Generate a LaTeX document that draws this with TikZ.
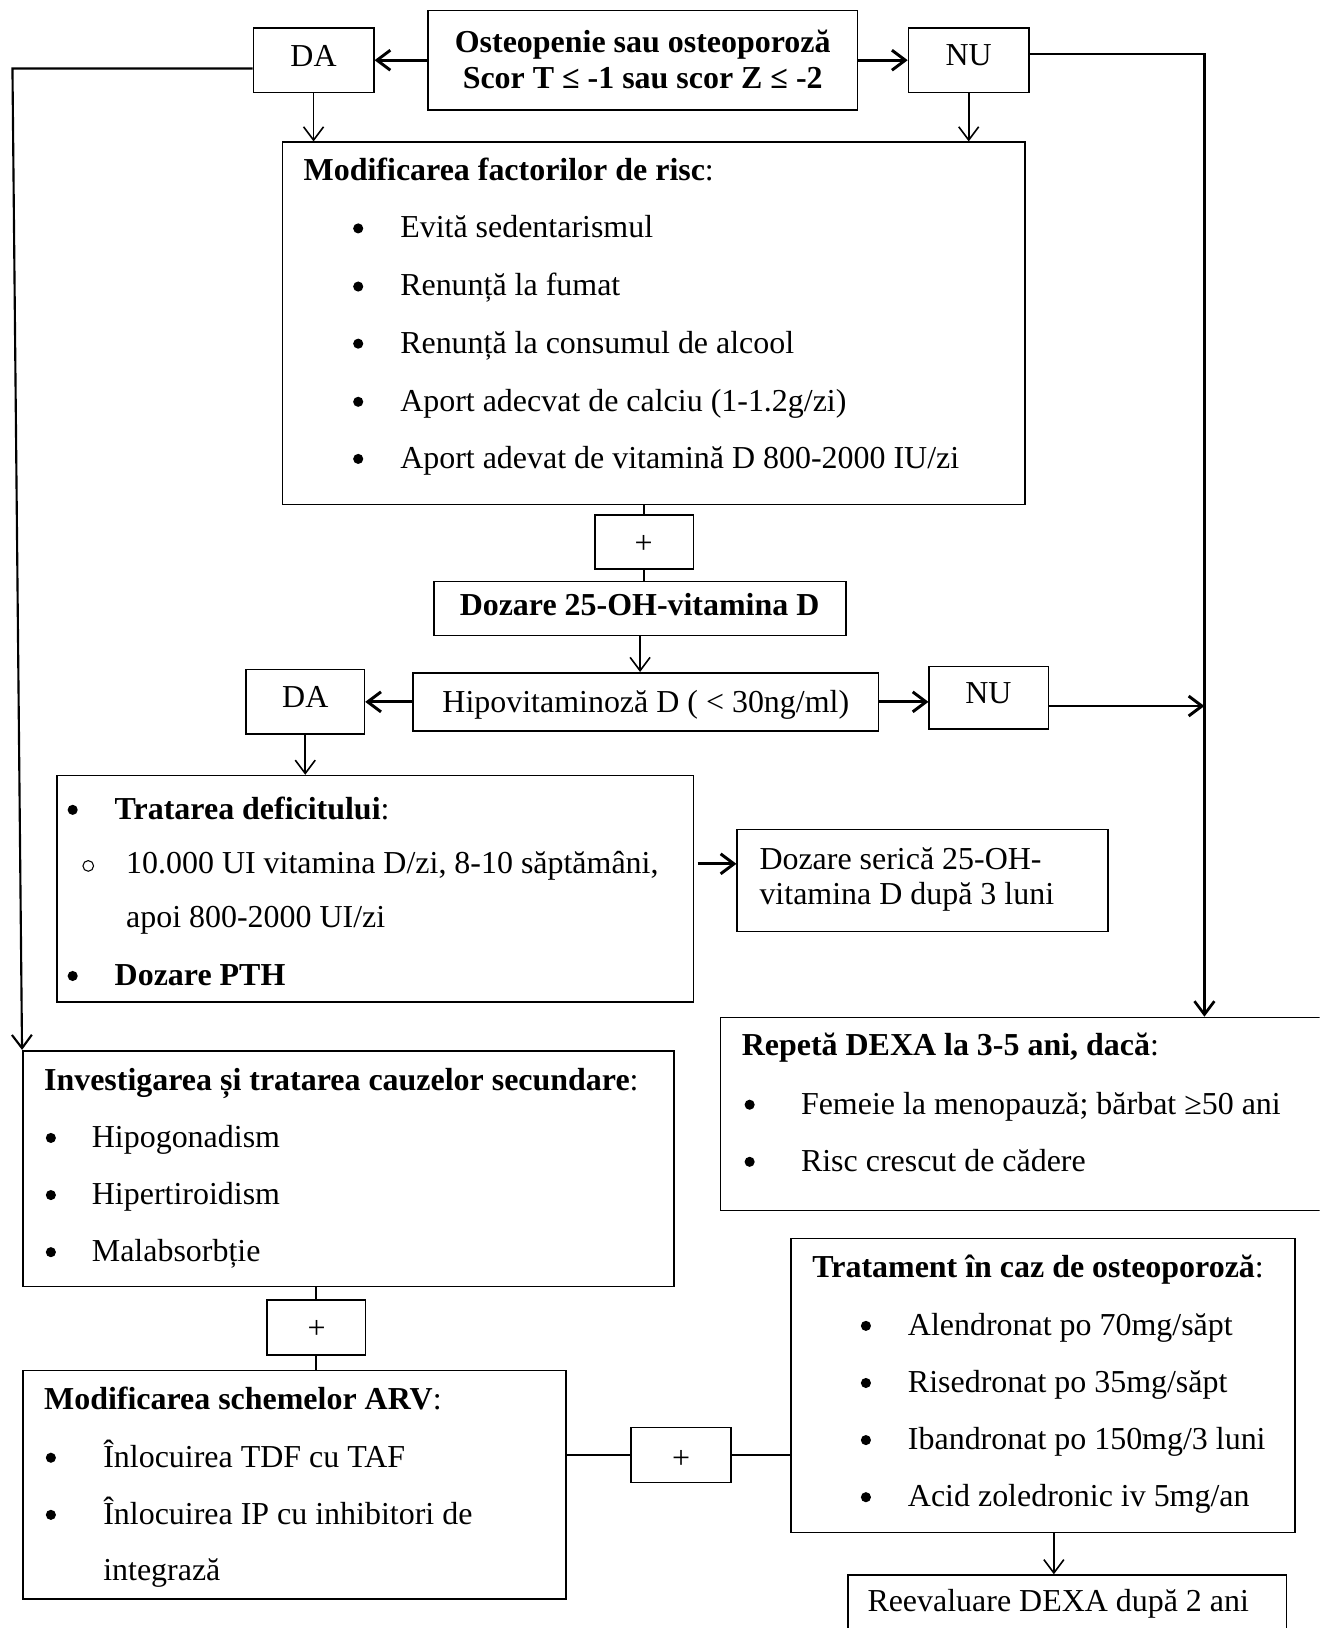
\documentclass[tikz,border=0pt]{standalone}
\usepackage{fontspec}
\setmainfont{Liberation Serif}
\usetikzlibrary{arrows.meta,fit}
\tikzset{every node/.style={font=\fontsize{12pt}{14pt}\selectfont}}
\tikzset{
  box/.style={draw, line width=0.6pt, inner sep=0pt},
  txt/.style={anchor=base west, inner sep=0pt},
  mid/.style={anchor=base, inner sep=0pt},
  dot/.style={circle, fill, inner sep=0pt, minimum size=3.8pt},
  odot/.style={circle, draw, line width=0.4pt, inner sep=0pt, minimum size=4pt},
  arr/.style={-{Straight Barb[length=5pt,width=7.5pt]}, line width=0.6pt},
  tarr/.style={-{Straight Barb[length=5pt,width=7.5pt]}, line width=1.1pt},
  link/.style={line width=0.6pt}
}

\begin{document}
\begin{tikzpicture}[x=0.39pt, y=-0.39pt]
\useasboundingbox (0,0) rectangle (1271,1568);
\clip (0,0) rectangle (1271,1568);

 % 框
 \node[box, fit={(412,10) (826,106)}] (osteo) {};
 \node[box, fit={(244,27) (360,89)}] (da1) {};
 \node[box, fit={(875,27) (991,89)}] (nu1) {};
 \node[box, fit={(272,137) (987,486)}] (mod) {};
 \node[box, fit={(573,496) (668,548)}] (plus1) {};
 \node[box, fit={(418,560) (815,612)}] (doz) {};
 \node[box, fit={(398,648) (846,704)}] (hipo) {};
 \node[box, fit={(237,645) (351,707)}] (da2) {};
 \node[box, fit={(895,642) (1010,702)}] (nu2) {};
 \node[box, fit={(55,747) (668,965)}] (trat) {};
 \node[box, fit={(710,799) (1067,897)}] (ser) {};
 \node[box, fit={(694,980) (1290,1166)}] (rep) {};
 \node[box, fit={(22,1012) (649,1239)}] (inv) {};
 \node[box, fit={(257,1252) (352,1305)}] (plus2) {};
 \node[box, fit={(22,1320) (545,1540)}] (arv) {};
 \node[box, fit={(608,1375) (704,1428)}] (plus3) {};
 \node[box, fit={(762,1193) (1247,1476)}] (tra) {};
 \node[box, fit={(817,1517) (1239,1590)}] (reev) {};

 % 文字
 \node[mid] (osteoA) at (619,51) {\bfseries Osteopenie sau osteoporoză};
 \node[mid] (osteoB) at (619,85) {\bfseries Scor T ≤ -1 sau scor Z ≤ -2};
 \node[mid] (da1T) at (302,64) {DA};
 \node[mid] (nu1T) at (933,63) {NU};
 \node[mid] (plus1T) at (620,533) {+};
 \node[mid] (dozT) at (616,593) {\bfseries Dozare 25-OH-vitamina D};
 \node[mid] (hipoT) at (622,686) {Hipovitaminoză D ( < 30ng/ml)};
 \node[mid] (da2T) at (294,681) {DA};
 \node[mid] (nu2T) at (952,678) {NU};
 \node[mid] (plus2T) at (305,1289) {+};
 \node[mid] (plus3T) at (656,1414) {+};

 \node[txt] (modT) at (292,174) {{\bfseries Modificarea factorilor de risc}:};
 \foreach \y/\t [count=\i] in {229/{Evită sedentarismul}, 285/{Renunță la fumat},
     340/{Renunță la consumul de alcool}, 396/{Aport adecvat de calciu (1-1.2g/zi)},
     451/{Aport adevat de vitamină D 800-2000 IU/zi}} {
   \node[dot] (modB\i) at (345,\y-9) {};
   \node[txt] (mod\i) at (385,\y) {\t};
 }

 \node[dot] (tratB1) at (70,780) {};
 \node[txt] (tratT) at (110,789) {{\bfseries Tratarea deficitului}:};
 \node[odot] (tratO) at (85,834) {};
 \node[txt] (trat1) at (121,841) {10.000 UI vitamina D/zi, 8-10 săptămâni,};
 \node[txt] (trat2) at (121,893) {apoi 800-2000 UI/zi};
 \node[dot] (tratB2) at (70,940) {};
 \node[txt] (trat3) at (110,949) {\bfseries Dozare PTH};

 \node[txt] (ser1) at (731,837) {Dozare serică 25-OH-};
 \node[txt] (ser2) at (731,871) {vitamina D după 3 luni};

 \node[txt] (repT) at (714,1017) {{\bfseries Repetă DEXA la 3-5 ani, dacă}:};
 \foreach \y/\t [count=\i] in {1073/{Femeie la menopauză; bărbat ≥50 ani}, 1128/{Risc crescut de cădere}} {
   \node[dot] (repB\i) at (722,\y-9) {};
   \node[txt] (rep\i) at (771,\y) {\t};
 }

 \node[txt] (invT) at (42,1050) {{\bfseries Investigarea și tratarea cauzelor secundare}:};
 \foreach \y/\t [count=\i] in {1105/Hipogonadism, 1160/Hipertiroidism, 1215/Malabsorbție} {
   \node[dot] (invB\i) at (49,\y-9) {};
   \node[txt] (inv\i) at (88,\y) {\t};
 }

 \node[txt] (arvT) at (42,1358) {{\bfseries Modificarea schemelor ARV}:};
 \node[dot] (arvB1) at (49,1404) {};
 \node[txt] (arv1) at (99,1413) {Înlocuirea TDF cu TAF};
 \node[dot] (arvB2) at (49,1459) {};
 \node[txt] (arv2) at (99,1468) {Înlocuirea IP cu inhibitori de};
 \node[txt] (arv3) at (99,1522) {integrază};

 \node[txt] (traT) at (782,1230) {{\bfseries Tratament în caz de osteoporoză}:};
 \foreach \y/\t [count=\i] in {1286/{Alendronat po 70mg/săpt}, 1341/{Risedronat po 35mg/săpt},
     1396/{Ibandronat po 150mg/3 luni}, 1451/{Acid zoledronic iv 5mg/an}} {
   \node[dot] (traB\i) at (834,\y-9) {};
   \node[txt] (tra\i) at (874,\y) {\t};
 }

 \node[txt] (reevT) at (835,1552) {Reevaluare DEXA după 2 ani};

 % 连线
 \coordinate (L1) at (12,66);
 \coordinate (R1) at (1160,52);
 \coordinate (R2) at (1160,680);
 \coordinate (T1) at (672,832);
 \coordinate (T2) at (1015,1476);

 \draw[tarr] (osteo) -- (da1);
 \draw[tarr] (osteo) -- (nu1);
 \draw[arr, line width=0.8pt] (da1.west |- L1) -- (L1) -- (inv.north west);
 \draw[arr, line width=1pt] (nu1.east |- R1) -- (R1) -- (R1 |- rep.north);
 \draw[arr] (da1.south) -- (da1.south |- mod.north);
 \draw[arr] (nu1.south) -- (nu1.south |- mod.north);

 \draw[link] (plus1.north |- mod.south) -- (plus1.north);
 \draw[link] (plus1.south) -- (plus1.south |- doz.north);
 \draw[arr] (doz.south) -- (doz.south |- hipo.north);
 \draw[tarr] (hipo) -- (da2);
 \draw[tarr] (hipo.east) -- (hipo.east -| nu2.west);
 \draw[tarr] (nu2.east |- R2) -- (R2);
 \draw[arr] (da2.south) -- (da2.south |- trat.north);
 \draw[tarr] (T1) -- (T1 -| ser.west);

 \draw[link] (plus2.north |- inv.south) -- (plus2.north);
 \draw[link] (plus2.south) -- (plus2.south |- arv.north);
 \draw[link, line width=1pt] (arv.east |- plus3.west) -- (plus3.west);
 \draw[link, line width=1pt] (plus3.east) -- (plus3.east -| tra.west);
 \draw[arr] (T2) -- (T2 |- reev.north);

\end{tikzpicture}
\end{document}
